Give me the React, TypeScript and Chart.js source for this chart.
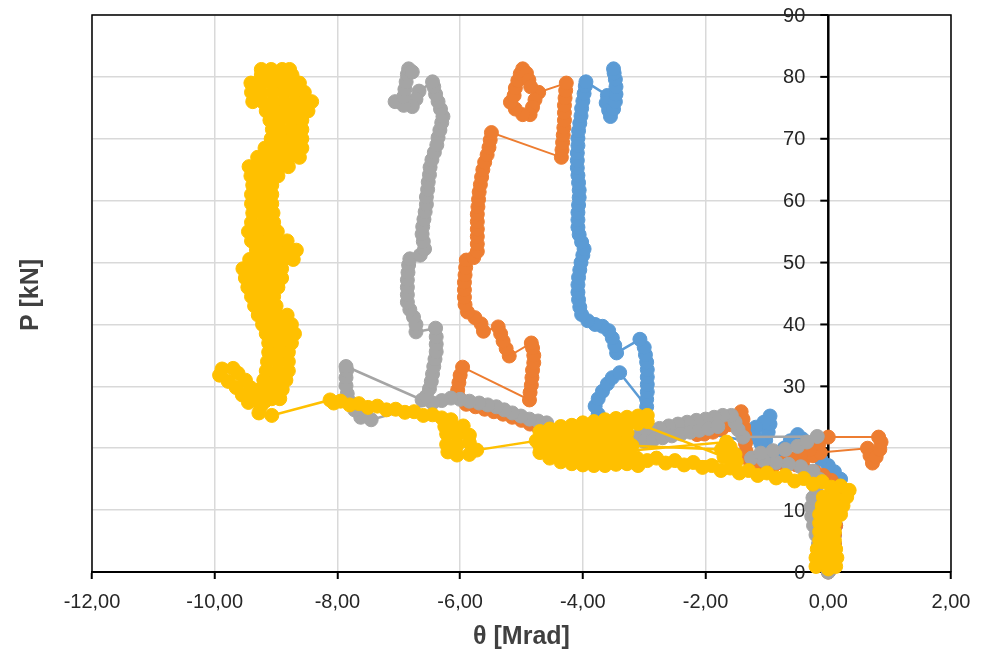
import React, { useEffect, useRef } from "react";
import { Chart, registerables } from "chart.js";

Chart.register(...registerables);

type Pt = [number, number];

const X_TICKS = [-12, -10, -8, -6, -4, -2, 0, 2];
const Y_TICKS = [0, 10, 20, 30, 40, 50, 60, 70, 80, 90];
const X_TITLE = "θ [Mrad]";
const Y_TITLE = "P [kN]";
const SERIES_NAMES = ["Series 1", "Series 2", "Series 3", "Series 4"];
const SERIES_COLORS = ["#5B9BD5", "#ED7D31", "#A5A5A5", "#FFC000"];

const blueSeries: Pt[] = [
  [0, 0], [0.05, 1.5], [0.08, 3], [0.1, 4.5], [0.1, 6], [0.12, 7.5], [0.12, 9], [0.15, 10.5], [0.18, 12], [0.2, 13.5], [0.2, 15],
  [0.1, 16.2], [0, 17.2], [-0.12, 18.2], [-0.25, 19.2], [-0.35, 20.3], [-0.42, 21.5], [-0.5, 22.2], [-0.62, 21.2], [-0.72, 20],
  [-0.8, 18.8], [-0.9, 17.8], [-1.0, 18.8], [-1.05, 20], [-1.02, 21.3], [-0.98, 22.6], [-0.95, 23.9], [-0.95, 25.2], [-1.05, 24.2],
  [-1.18, 23.4], [-1.3, 22.8], [-1.2, 21.8], [-1.1, 20.8],
  [-3.75, 25.5], [-3.8, 26.8], [-3.75, 28], [-3.68, 29.2], [-3.6, 30.4], [-3.52, 31.4], [-3.4, 32.2],
  [-2.96, 26.7], [-2.96, 27.9], [-2.95, 29.1], [-2.95, 30.3], [-2.95, 31.5], [-2.95, 32.7], [-2.96, 33.9], [-2.98, 35.1], [-3.0, 36.3], [-3.07, 37.6],
  [-3.45, 35.4], [-3.48, 36.6], [-3.52, 37.8], [-3.58, 39], [-3.68, 39.7], [-3.8, 40], [-3.92, 40.6], [-4.02, 41.6], [-4.05, 42.8],
  [-4.07, 44], [-4.08, 45.2], [-4.08, 46.4], [-4.07, 47.6], [-4.05, 48.8], [-4.03, 50], [-4.0, 51.2], [-3.98, 52.2], [-4.02, 53.3],
  [-4.06, 54.5], [-4.08, 55.7], [-4.08, 56.9], [-4.08, 58.1], [-4.07, 59.3], [-4.06, 60.5], [-4.06, 61.7], [-4.07, 62.9], [-4.08, 64.1],
  [-4.09, 65.3], [-4.09, 66.5], [-4.09, 67.7], [-4.08, 68.9], [-4.08, 70.1], [-4.07, 71.3], [-4.05, 72.5], [-4.03, 73.7], [-4.02, 74.9],
  [-4.0, 76.1], [-3.98, 77.3], [-3.96, 78.5], [-3.95, 79.2],
  [-3.6, 77], [-3.62, 75.8], [-3.58, 74.6], [-3.55, 73.6], [-3.5, 74.8], [-3.47, 76], [-3.46, 77.2], [-3.46, 78.4], [-3.47, 79.6],
  [-3.49, 80.6], [-3.5, 81.3],
];

const orangeSeries: Pt[] = [
  [0, 0], [0.05, 1.5], [0.08, 3], [0.1, 4.5], [0.1, 6], [0.12, 7.5], [0.12, 9], [0.15, 10.5], [0.15, 12], [0.12, 13.5], [0.05, 14.8],
  [-0.08, 15.6], [-0.22, 16.2], [-0.38, 16.6], [-0.52, 17.3], [-0.4, 18.2], [-0.25, 18.8], [-0.13, 19.3],
  [0.64, 20], [0.68, 18.8], [0.72, 17.6], [0.78, 18.6], [0.84, 19.8], [0.86, 21], [0.82, 21.8],
  [0.0, 21.8], [-0.15, 20.8], [-0.3, 19.8], [-0.45, 19], [-0.6, 18.3], [-0.75, 17.6], [-0.9, 17.1], [-1.05, 16.8], [-1.2, 17.2],
  [-1.3, 18.2], [-1.34, 19.5], [-1.35, 20.8], [-1.36, 22.1], [-1.38, 23.4], [-1.39, 24.7], [-1.42, 25.9], [-1.52, 24.8], [-1.62, 23.8],
  [-1.74, 23.1], [-1.88, 22.6], [-2.02, 22.3], [-2.14, 22.2],
  [-3.4, 21], [-4.0, 21], [-4.5, 22.5], [-4.72, 23.3], [-4.86, 23.9], [-5.0, 24.5], [-5.15, 25.0], [-5.3, 25.5], [-5.45, 25.9],
  [-5.6, 26.3], [-5.75, 26.7], [-5.9, 27.1], [-6.02, 28.2], [-6.04, 29.4], [-6.02, 30.6], [-6.0, 31.8], [-5.96, 33.1],
  [-4.87, 27.8], [-4.86, 29], [-4.84, 30.2], [-4.83, 31.4], [-4.82, 32.6], [-4.8, 33.8], [-4.8, 35], [-4.82, 36.2], [-4.84, 37],
  [-5.2, 34.9], [-5.25, 36.1], [-5.3, 37.3], [-5.34, 38.5], [-5.38, 39.6],
  [-5.62, 38.9], [-5.66, 40.1], [-5.76, 41.1], [-5.88, 42], [-5.92, 43.2], [-5.93, 44.4], [-5.93, 45.6], [-5.93, 46.8], [-5.92, 48],
  [-5.91, 49.2], [-5.9, 50.4], [-5.78, 50.8], [-5.72, 51.8], [-5.72, 53], [-5.72, 54.2], [-5.72, 55.4], [-5.72, 56.6], [-5.72, 57.8],
  [-5.71, 59], [-5.7, 60.2], [-5.69, 61.4], [-5.67, 62.6], [-5.65, 63.8], [-5.63, 65], [-5.6, 66.2], [-5.56, 67.4], [-5.53, 68.6],
  [-5.51, 69.8], [-5.49, 71],
  [-4.35, 67], [-4.34, 68.2], [-4.33, 69.4], [-4.32, 70.6], [-4.31, 71.8], [-4.3, 73], [-4.3, 74.2], [-4.3, 75.4], [-4.29, 76.6],
  [-4.28, 77.8], [-4.27, 79],
  [-4.72, 77.5], [-4.78, 76.3], [-4.82, 75.1], [-4.86, 73.9], [-4.98, 73.9], [-5.1, 74.8], [-5.18, 75.9], [-5.12, 77], [-5.1, 78.2],
  [-5.06, 79.4], [-5.02, 80.5], [-4.98, 81.3], [-4.92, 80.6], [-4.88, 79.5], [-4.85, 78.4],
];

const graySeries: Pt[] = [
  [0, 0], [-0.08, 1.5], [-0.12, 3], [-0.16, 4.5], [-0.2, 6], [-0.24, 7.5], [-0.27, 9], [-0.28, 10.5], [-0.25, 12], [-0.2, 13.5],
  [-0.15, 15], [-0.25, 16.3], [-0.45, 17], [-0.65, 17.4], [-0.85, 17.7], [-1.05, 18], [-1.25, 18.4], [-1.1, 19.2], [-0.9, 19.6],
  [-0.7, 19.8], [-0.5, 20.3], [-0.35, 21], [-0.18, 21.9],
  [-1.39, 21.8], [-1.47, 23], [-1.52, 24.2], [-1.58, 25.3], [-1.72, 25.3], [-1.86, 25], [-2.0, 24.7], [-2.15, 24.5], [-2.3, 24.2],
  [-2.45, 23.9], [-2.6, 23.6], [-2.75, 23.2], [-2.9, 22.9], [-3.05, 22.5], [-3.15, 21.6], [-3.0, 21.1], [-2.85, 21.4], [-2.7, 21.7],
  [-2.55, 22], [-2.4, 22.3], [-2.25, 22.6], [-2.1, 22.9], [-1.95, 23.2], [-1.8, 23.5],
  [-3.6, 21.5], [-4.2, 22.5], [-4.59, 24.1], [-4.73, 24.4], [-4.87, 24.7], [-5.01, 25.2], [-5.15, 25.7], [-5.28, 26.2], [-5.41, 26.7],
  [-5.55, 27], [-5.69, 27.3], [-5.85, 27.6], [-6.0, 27.9], [-6.15, 28.1], [-6.3, 27.7], [-6.45, 27.3],
  [-7.45, 24.6], [-7.62, 25], [-7.72, 26.2], [-7.8, 27.5], [-7.84, 28.8], [-7.86, 30.1], [-7.86, 31.4], [-7.85, 32.6], [-7.86, 33.2],
  [-6.62, 27.8], [-6.55, 28.4], [-6.5, 29.6], [-6.47, 30.8], [-6.45, 32], [-6.43, 33.2], [-6.41, 34.4], [-6.39, 35.6], [-6.39, 36.8],
  [-6.39, 38], [-6.4, 39.4],
  [-6.72, 38.8], [-6.72, 40], [-6.76, 41.2], [-6.82, 42.4], [-6.86, 43.6], [-6.86, 44.8], [-6.86, 46], [-6.86, 47.2], [-6.85, 48.4],
  [-6.84, 49.6], [-6.82, 50.6], [-6.65, 51.2], [-6.58, 52.2], [-6.6, 53.4], [-6.62, 54.6], [-6.61, 55.8], [-6.59, 57], [-6.57, 58.2],
  [-6.55, 59.4], [-6.55, 60.6], [-6.53, 61.8], [-6.52, 63], [-6.5, 64.2], [-6.49, 65.4], [-6.46, 66.6], [-6.42, 67.8], [-6.38, 69],
  [-6.36, 70.2], [-6.33, 71.4], [-6.3, 72.6], [-6.28, 73.6], [-6.32, 74.8], [-6.36, 76], [-6.4, 77.2], [-6.43, 78.4], [-6.45, 79.2],
  [-6.67, 77.7], [-6.72, 76.4], [-6.78, 75.2], [-6.92, 75.4], [-7.06, 76], [-6.92, 76.8], [-6.9, 78], [-6.88, 79.2], [-6.86, 80.4],
  [-6.84, 81.3], [-6.78, 80.8],
];

const yellowSeries: Pt[] = [
  [0, 0.5], [-0.2, 0.9], [-0.04, 1.2], [0.12, 0.9], [0.14, 2.3], [-0.02, 2.4], [-0.2, 2.3], [-0.18, 3.7], [-0.02, 3.8], [0.12, 3.7],
  [0.1, 5.1], [-0.02, 5.2], [-0.14, 5.1], [-0.14, 6.5], [0, 6.6], [0.1, 6.5], [0.1, 7.9], [-0.02, 8], [-0.14, 7.9], [-0.14, 9.3],
  [0.02, 9.4], [0.2, 9.3], [0.24, 10.7], [0.08, 10.8], [-0.1, 10.7], [-0.08, 12.1], [0.1, 12.2], [0.3, 12.1], [0.34, 13.2],
  [0.2, 13.9], [0.05, 13.7], [-0.1, 14.6], [-0.25, 14.2], [-0.4, 15.1], [-0.55, 14.7], [-0.7, 15.6], [-0.85, 15.2], [-1.0, 16.0],
  [-1.15, 15.6], [-1.3, 16.4], [-1.45, 16.0], [-1.6, 16.8], [-1.75, 16.4], [-1.9, 17.2], [-2.05, 16.9], [-2.2, 17.7], [-2.35, 17.3],
  [-2.5, 18.0], [-2.65, 17.6], [-2.8, 18.4], [-2.95, 18.0],
  [-1.5, 17.8], [-1.52, 19], [-1.6, 20.2], [-1.66, 21],
  [-3.24, 19.6], [-3.12, 18.4], [-3.1, 17.2], [-3.2, 20.4],
  [-1.74, 19.8], [-1.7, 18.6],
  [-3.1, 24.0], [-2.95, 24.3], [-2.95, 25.3], [-3.1, 25.2],
  [-3.28, 25.0], [-3.28, 23.8], [-3.28, 22.5], [-3.28, 21.2], [-3.28, 19.9], [-3.28, 18.6], [-3.28, 17.5],
  [-3.46, 17.4], [-3.46, 18.7], [-3.46, 20], [-3.46, 21.3], [-3.46, 22.6], [-3.46, 23.9], [-3.46, 24.8],
  [-3.64, 24.6], [-3.64, 23.4], [-3.64, 22.1], [-3.64, 20.8], [-3.64, 19.5], [-3.64, 18.2], [-3.64, 17.2],
  [-3.82, 17.2], [-3.82, 18.5], [-3.82, 19.8], [-3.82, 21.1], [-3.82, 22.4], [-3.82, 23.7], [-3.82, 24.3],
  [-4.0, 24.1], [-4.0, 22.9], [-4.0, 21.6], [-4.0, 20.3], [-4.0, 19], [-4.0, 17.7], [-4.0, 17.3],
  [-4.18, 17.5], [-4.18, 18.8], [-4.18, 20.1], [-4.18, 21.4], [-4.18, 22.7], [-4.18, 23.7],
  [-4.36, 23.5], [-4.36, 22.3], [-4.36, 21], [-4.36, 19.7], [-4.36, 18.4], [-4.36, 17.8],
  [-4.54, 18.4], [-4.54, 19.7], [-4.54, 21], [-4.54, 22.3], [-4.54, 23.1],
  [-4.7, 22.7], [-4.7, 21.6], [-4.7, 20.4], [-4.7, 19.3], [-4.76, 21.2],
  [-5.73, 19.7], [-5.85, 19], [-6.05, 18.9], [-6.2, 19.4], [-6.22, 20.6], [-6.05, 20.5], [-5.85, 20.9], [-5.85, 22.1], [-6.05, 22],
  [-6.22, 22.3], [-6.25, 23.5], [-6.1, 23.4], [-5.95, 23.6],
  [-6.15, 24.6], [-6.3, 24.9], [-6.45, 25.4], [-6.6, 25.3], [-6.75, 25.9], [-6.9, 25.8], [-7.05, 26.3], [-7.2, 26.2], [-7.35, 26.8],
  [-7.5, 26.6], [-7.65, 27.2], [-7.8, 27], [-7.95, 27.6], [-8.06, 27.3], [-8.12, 27.8],
  [-9.07, 25.3], [-9.28, 25.7], [-9.25, 26.8], [-9.45, 27.4], [-9.55, 28.6], [-9.65, 29.8], [-9.78, 30.8], [-9.92, 31.8], [-9.88, 32.8],
  [-9.7, 32.9], [-9.62, 32.1], [-9.5, 31], [-9.42, 29.8], [-9.32, 28.6], [-9.18, 27.6],
  [-9.36, 28], [-9.21, 28], [-9.07, 28], [-8.94, 28],
  [-8.9, 29.5], [-9.08, 29.5], [-9.26, 29.5],
  [-9.2, 31], [-9.02, 31], [-8.84, 31],
  [-8.8, 32.5], [-8.98, 32.5], [-9.16, 32.5],
  [-9.14, 34], [-8.97, 34], [-8.8, 34],
  [-8.8, 35.5], [-8.97, 35.5], [-9.12, 35.5],
  [-9.12, 37], [-8.94, 37], [-8.75, 37],
  [-8.7, 38.5], [-8.86, 38.5], [-9.02, 38.5], [-9.16, 38.5],
  [-9.22, 40], [-9.06, 40], [-8.9, 40], [-8.75, 40],
  [-8.82, 41.5], [-8.98, 41.5], [-9.14, 41.5], [-9.29, 41.5],
  [-9.35, 43], [-9.18, 43], [-9.0, 43],
  [-9.04, 44.5], [-9.22, 44.5], [-9.4, 44.5],
  [-9.46, 46], [-9.3, 46], [-9.13, 46], [-8.97, 46],
  [-8.91, 47.5], [-9.06, 47.5], [-9.22, 47.5], [-9.36, 47.5], [-9.5, 47.5],
  [-9.54, 49], [-9.39, 49], [-9.22, 49], [-9.06, 49], [-8.91, 49],
  [-8.72, 50.5], [-8.88, 50.5], [-9.07, 50.5], [-9.26, 50.5], [-9.43, 50.5],
  [-9.32, 52], [-9.16, 52], [-8.98, 52], [-8.81, 52], [-8.67, 52],
  [-8.82, 53.5], [-8.97, 53.5], [-9.14, 53.5], [-9.3, 53.5], [-9.4, 53.5],
  [-9.45, 55], [-9.29, 55], [-9.12, 55], [-8.98, 55],
  [-9.04, 56.5], [-9.22, 56.5], [-9.4, 56.5],
  [-9.38, 58], [-9.21, 58], [-9.05, 58],
  [-9.07, 59.5], [-9.24, 59.5], [-9.4, 59.5],
  [-9.4, 61], [-9.24, 61], [-9.07, 61],
  [-9.07, 62.5], [-9.22, 62.5], [-9.38, 62.5],
  [-9.41, 64], [-9.26, 64], [-9.1, 64], [-8.97, 64],
  [-8.8, 65.5], [-8.95, 65.5], [-9.12, 65.5], [-9.29, 65.5], [-9.44, 65.5],
  [-9.3, 67], [-9.15, 67], [-8.97, 67], [-8.79, 67], [-8.62, 67],
  [-8.58, 68.5], [-8.73, 68.5], [-8.9, 68.5], [-9.06, 68.5], [-9.18, 68.5],
  [-9.08, 70], [-8.92, 70], [-8.74, 70], [-8.58, 70],
  [-8.58, 71.5], [-8.74, 71.5], [-8.91, 71.5], [-9.06, 71.5],
  [-9.1, 73], [-8.94, 73], [-8.75, 73], [-8.58, 73],
  [-8.48, 74.5], [-8.64, 74.5], [-8.82, 74.5], [-9.0, 74.5], [-9.16, 74.5],
  [-9.38, 76], [-9.22, 76], [-9.04, 76], [-8.86, 76], [-8.68, 76], [-8.52, 76], [-8.42, 76],
  [-8.54, 77.5], [-8.7, 77.5], [-8.88, 77.5], [-9.06, 77.5], [-9.24, 77.5], [-9.4, 77.5],
  [-9.41, 79], [-9.25, 79], [-9.07, 79], [-8.9, 79], [-8.75, 79], [-8.62, 79],
  [-8.74, 80.3], [-8.9, 80.3], [-9.08, 80.3], [-9.24, 80.3],
  [-9.24, 81.2], [-9.08, 81.2], [-8.9, 81.2], [-8.78, 81.2],
];

const ALL_SERIES: Pt[][] = [blueSeries, orangeSeries, graySeries, yellowSeries];

const FONT = "'Liberation Sans', Arial, sans-serif";
const TEXT = "#262626";
const GRID = "#d9d9d9";

const framePlugin = {
  id: "frameAndTitles",
  beforeDatasetsDraw(chart: any) {
    const { ctx, chartArea: a, scales } = chart;
    ctx.save();
    ctx.strokeStyle = "#000";
    ctx.lineWidth = 1.5;
    ctx.strokeRect(a.left, a.top, a.right - a.left, a.bottom - a.top);
    const x0 = scales.x.getPixelForValue(0);
    ctx.lineWidth = 2.5;
    ctx.beginPath();
    ctx.moveTo(x0, a.top);
    ctx.lineTo(x0, a.bottom);
    ctx.stroke();
    ctx.lineWidth = 2;
    ctx.fillStyle = TEXT;
    ctx.font = `20px ${FONT}`;
    ctx.textAlign = "right";
    ctx.textBaseline = "middle";
    Y_TICKS.forEach((v) => {
      const py = scales.y.getPixelForValue(v);
      ctx.beginPath();
      ctx.moveTo(x0 - 8, py);
      ctx.lineTo(x0, py);
      ctx.stroke();
      ctx.fillText(String(v), x0 - 23, py + 1);
    });
    ctx.restore();
  },
  afterDraw(chart: any) {
    const { ctx, chartArea: a } = chart;
    ctx.save();
    ctx.fillStyle = "#404040";
    ctx.font = `bold 25px ${FONT}`;
    ctx.textAlign = "center";
    ctx.textBaseline = "middle";
    ctx.fillText(X_TITLE, (a.left + a.right) / 2, 637);
    ctx.translate(31, 295);
    ctx.rotate(-Math.PI / 2);
    ctx.fillText(Y_TITLE, 0, 0);
    ctx.restore();
  },
};

export default function App() {
  const ref = useRef<HTMLCanvasElement | null>(null);
  useEffect(() => {
    if (!ref.current) return;
    const chart = new Chart(ref.current, {
      type: "scatter",
      data: {
        datasets: ALL_SERIES.map((s, i) => ({
          label: SERIES_NAMES[i],
          data: s.map(([x, y]) => ({ x, y })),
          showLine: true,
          tension: 0,
          borderColor: SERIES_COLORS[i],
          backgroundColor: SERIES_COLORS[i],
          borderWidth: i === 1 ? 2 : 2.5,
          pointRadius: 7,
          pointHoverRadius: 7,
          pointBorderWidth: 1,
          pointBackgroundColor: SERIES_COLORS[i],
          pointBorderColor: SERIES_COLORS[i],
          order: 3 - i,
          clip: false,
        })),
      },
      options: {
        animation: false,
        responsive: false,
        devicePixelRatio: 1,
        events: [],
        layout: { padding: { left: 92, right: 36, top: 15, bottom: 0 } },
        plugins: { legend: { display: false }, tooltip: { enabled: false } },
        scales: {
          x: {
            type: "linear",
            min: -12,
            max: 2,
            afterBuildTicks: (s: any) => {
              s.ticks = X_TICKS.map((v) => ({ value: v }));
            },
            afterFit: (s: any) => {
              s.height = 85;
            },
            ticks: {
              callback: (v: any) => Number(v).toFixed(2).replace(".", ","),
              color: TEXT,
              font: { family: FONT, size: 20 },
              padding: 11,
              maxRotation: 0,
              autoSkip: false,
            },
            grid: {
              color: (c: any) => (c.tick && c.tick.value === 0 ? "rgba(0,0,0,0)" : GRID),
              lineWidth: 1.5,
              tickColor: "#000",
              tickLength: 7,
              tickWidth: 2,
            },
            border: { display: true, color: "#000", width: 2 },
          },
          y: {
            type: "linear",
            min: 0,
            max: 90,
            position: { x: 0 },
            afterBuildTicks: (s: any) => {
              s.ticks = Y_TICKS.map((v) => ({ value: v }));
            },
            ticks: {
              color: "rgba(0,0,0,0)",
              font: { family: FONT, size: 10 },
              padding: 0,
            },
            grid: {
              color: GRID,
              lineWidth: 1.5,
              drawTicks: false,
            },
            border: { display: false },
          },
        },
      },
      plugins: [framePlugin],
    } as any);
    return () => chart.destroy();
  }, []);
  return (
    <div style={{ position: "absolute", left: 0, top: 0, width: 987, height: 657, background: "#fff" }}>
      <canvas ref={ref} width={987} height={657} style={{ display: "block" }} />
    </div>
  );
}
